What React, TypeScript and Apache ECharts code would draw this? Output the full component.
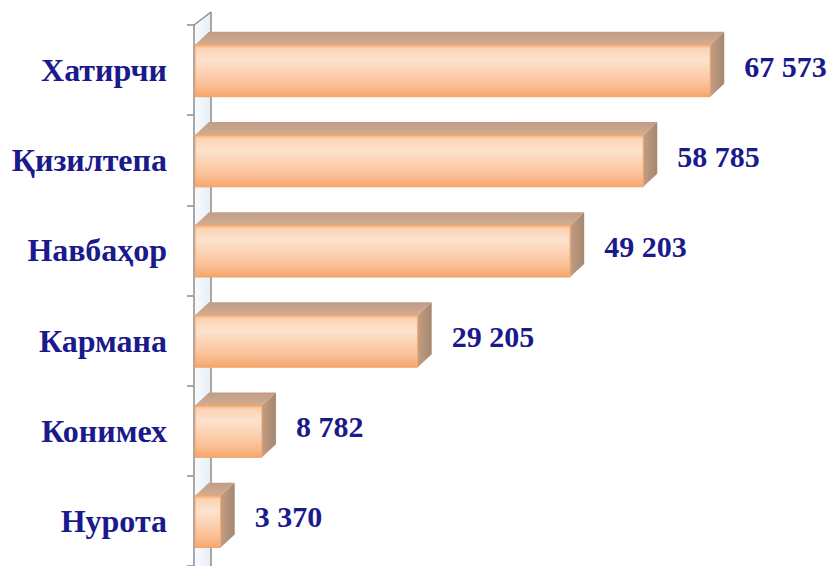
import React, { useEffect, useRef } from 'react';
import * as echarts from 'echarts';

const categories = ['Хатирчи', 'Қизилтепа', 'Навбаҳор', 'Кармана', 'Конимех', 'Нурота'];
const values = [67573, 58785, 49203, 29205, 8782, 3370];
const axisMax = 80000;

const fmt = (v: number) => String(v).replace(/\B(?=(\d{3})+(?!\d))/g, ' ');

export default function App() {
  const ref = useRef<HTMLDivElement>(null);
  useEffect(() => {
    const chart = echarts.init(ref.current!, null, { renderer: 'svg' });
    const DX = 14;
    const DY = -13;
    const WALL = 17;
    const textColor = '#1a1a8c';
    const font = 'Liberation Serif, Times New Roman, serif';
    const gray = '#8c8c8c';

    const wallItem = (params: any, api: any) => {
      const i = api.value(1);
      const p = api.coord([0, i]);
      const h = api.size([0, 1])[1];
      const x = p[0] - 1;
      const t = p[1] - h / 2;
      const last = i === categories.length - 1;
      const b = p[1] + h / 2;
      const bb = last ? b + 10 : b - 13;
      const children: any[] = [
        {
          type: 'polygon',
          shape: { points: [[x, t], [x + WALL, t - 13], [x + WALL, bb], [x, last ? b + 10 : b]] },
          style: {
            fill: new echarts.graphic.LinearGradient(0, 0, 1, 0, [
              { offset: 0, color: '#fafcfe' },
              { offset: 1, color: '#e6eef7' },
            ]),
          },
        },
        { type: 'line', shape: { x1: x, y1: t, x2: x, y2: last ? b + 10 : b }, style: { stroke: gray, lineWidth: 1.5 } },
        { type: 'line', shape: { x1: x + WALL, y1: t - 13, x2: x + WALL, y2: bb }, style: { stroke: gray, lineWidth: 1.5 } },
      ];
      if (i === 0) {
        children.push({ type: 'line', shape: { x1: x, y1: t, x2: x + WALL, y2: t - 13 }, style: { stroke: gray, lineWidth: 1.5 } });
      }
      return { type: 'group', children };
    };

    const barItem = (params: any, api: any) => {
      const v = api.value(0);
      const i = api.value(1);
      const s = api.coord([0, i]);
      const e = api.coord([v, i]);
      const h = api.size([0, 1])[1];
      const cy = s[1];
      const x0 = s[0];
      const x1 = e[0];
      const top = cy - h * 0.28;
      const bot = cy + h * 0.295;
      return {
        type: 'group',
        children: [
          {
            type: 'polygon',
            shape: { points: [[x0, top], [x0 + DX, top + DY], [x1 + DX, top + DY], [x1, top]] },
            style: {
              fill: new echarts.graphic.LinearGradient(0, 0, 0, 1, [
                { offset: 0, color: '#bf9c86' },
                { offset: 1, color: '#d3ad92' },
              ]),
            },
          },
          {
            type: 'polygon',
            shape: { points: [[x1, top], [x1 + DX, top + DY], [x1 + DX, bot + DY], [x1, bot]] },
            style: {
              fill: new echarts.graphic.LinearGradient(0, 0, 1, 0, [
                { offset: 0, color: '#c29d83' },
                { offset: 1, color: '#a5876f' },
              ]),
            },
          },
          {
            type: 'rect',
            shape: { x: x0, y: top, width: x1 - x0, height: bot - top },
            style: {
              fill: new echarts.graphic.LinearGradient(0, 0, 0, 1, [
                { offset: 0, color: '#f5aa74' },
                { offset: 0.07, color: '#fcd4b5' },
                { offset: 0.3, color: '#fde2cd' },
                { offset: 0.75, color: '#fbc29a' },
                { offset: 1, color: '#f6a66c' },
              ]),
              stroke: '#f2a264',
              lineWidth: 1,
            },
          },
          {
            type: 'text',
            x: x1 + 34,
            y: cy - 4,
            style: {
              text: fmt(v),
              fill: textColor,
              fontFamily: font,
              fontWeight: 'bold',
              fontSize: 30,
              align: 'left',
              verticalAlign: 'middle',
            },
          },
        ],
      };
    };

    chart.setOption({
      animation: false,
      backgroundColor: '#ffffff',
      grid: { left: 195, right: 29, top: 25, height: 544 },
      xAxis: { type: 'value', min: 0, max: axisMax, show: false },
      yAxis: {
        type: 'category',
        data: categories,
        inverse: true,
        axisLine: { show: false },
        axisTick: { show: true, length: 8, lineStyle: { color: gray, width: 1.5 } },
        axisLabel: {
          margin: 28,
          color: textColor,
          fontFamily: font,
          fontWeight: 'bold',
          fontSize: 32,
          padding: [6, 0, 0, 0],
        },
        splitLine: { show: false },
      },
      series: [
        {
          type: 'custom',
          z: 1,
          data: categories.map((_, i) => [0, i]),
          encode: { x: 0, y: 1 },
          renderItem: wallItem,
          silent: true,
        },
        {
          type: 'custom',
          z: 2,
          data: values.map((v, i) => [v, i]),
          encode: { x: 0, y: 1 },
          renderItem: barItem,
        },
      ],
    });
    return () => chart.dispose();
  }, []);
  return <div ref={ref} style={{ position: 'fixed', left: 0, top: 0, width: 834, height: 566 }} />;
}
